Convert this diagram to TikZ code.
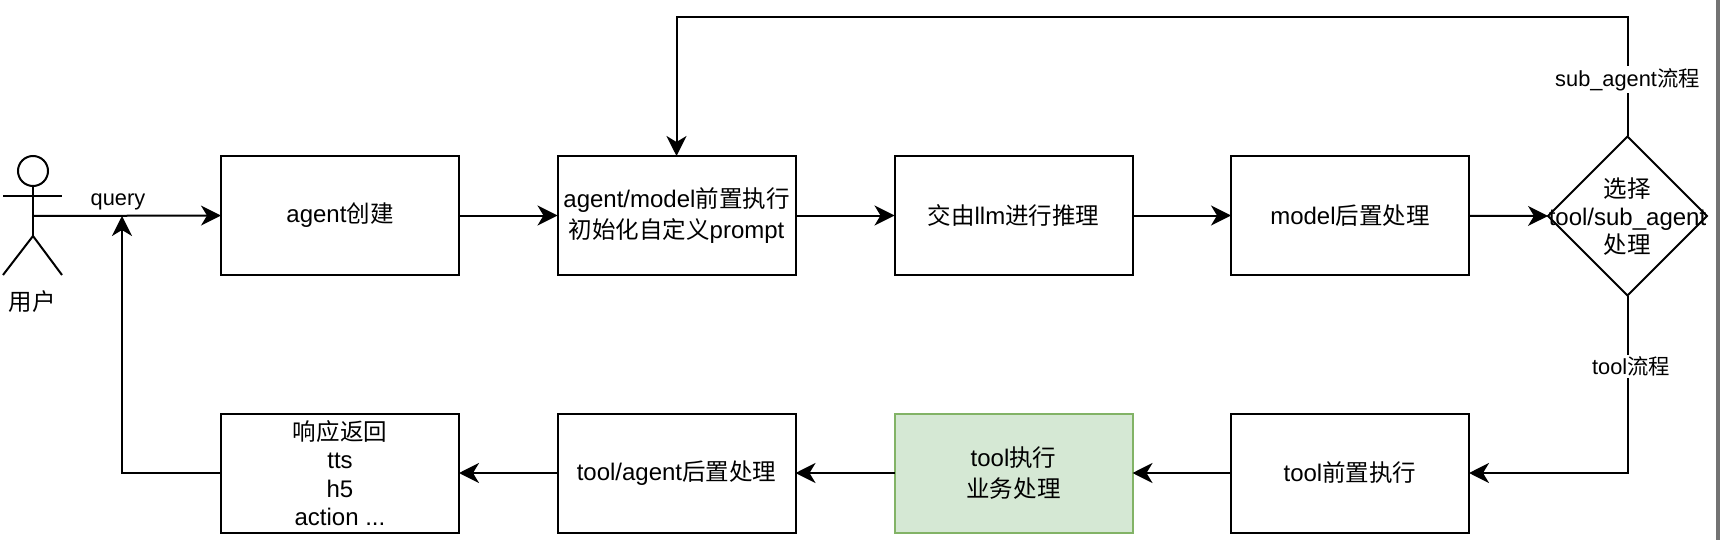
\documentclass[tikz,border=0pt]{standalone}
\usepackage{fontspec}
\setmainfont{Liberation Sans}
\newfontfamily\cjk{Noto Sans CJK SC}[Scale=0.98]
\newcommand{\zh}[1]{{\cjk #1}}
\usetikzlibrary{arrows.meta,shapes.geometric}
\definecolor{greenfill}{HTML}{D5E8D4}
\definecolor{greenline}{HTML}{82B366}
\tikzset{
  every node/.style={font=\fontsize{12}{15.4}\selectfont, align=center, inner sep=0pt, outer sep=0pt},
  flowbox/.style={draw=black, line width=1pt, minimum width=119pt, minimum height=59.5pt, anchor=center},
  greenbox/.style={flowbox, draw=greenline, fill=greenfill},
  choice/.style={draw=black, line width=1pt, diamond, aspect=1, minimum width=79.5pt, minimum height=79.5pt, anchor=center},
  conn/.style={draw=black, line width=1pt, -{Stealth[length=10pt,width=10pt,inset=3pt]}},
  edgelabel/.style={font=\fontsize{10.9}{13}\selectfont, fill=white, inner sep=1pt},
  actorline/.style={draw=black, line width=1pt},
  nudge/.style={execute at begin node={\vspace*{2pt}}}
}
\begin{document}
\begin{tikzpicture}[x=0.5pt,y=-0.5pt]
\useasboundingbox (0,0) rectangle (1720,540);
\fill[white] (0,0) rectangle (1720,540);
\fill[black!55] (1716,0) rectangle (1720,540);

% actor
\draw[actorline] (33,171) circle (7.5pt);
\draw[actorline] (33,186) -- (33,236);
\draw[actorline] (3,196) -- (62,196);
\draw[actorline] (3,275) -- (33,236) -- (62,275);
\coordinate (actorc) at (33,216);
\node (user) at (32.5,302) {\zh{用户}};

% boxes
\node[flowbox,nudge] (a1) at (340,215.5) {agent\zh{创建}};
\node[flowbox,nudge] (a2) at (676.5,215.5) {agent/model\zh{前置执行}\\\zh{初始化自定义}prompt};
\node[flowbox,nudge] (a3) at (1013.5,215.5) {\zh{交由}llm\zh{进行推理}};
\node[flowbox,nudge] (a4) at (1350,215.5) {model\zh{后置处理}};
\node[choice] (d) at (1627.5,216) {};
\node[font=\fontsize{12}{14}\selectfont] (dtext) at (1627.5,217) {\zh{选择}\\tool/sub\_agent\\\zh{处理}};

\node[flowbox,nudge] (b4) at (1350,473) {tool\zh{前置执行}};
\node[greenbox,nudge] (b3) at (1013.5,473) {tool\zh{执行}\\\zh{业务处理}};
\node[flowbox,nudge] (b2) at (676.5,473) {tool/agent\zh{后置处理}};
\node[flowbox, font=\fontsize{12}{14.2}\selectfont] (b1) at (340,473) {\zh{响应返回}\\tts\\h5\\action ...};

% connectors
\coordinate (q) at (122,216);
\draw[conn] (actorc) -- (a1.west);
\draw[conn] (a1) -- (a2);
\draw[conn] (a2) -- (a3);
\draw[conn] (a3) -- (a4);
\draw[conn] (a4) -- (d.west);
\coordinate (tr) at (1627.5,17.5);
\coordinate (tl) at (676.5,17.5);
\draw[conn] (d.north) -- (tr) -- (tl) -- (a2.north);
\node[edgelabel] (lsub) at (1627.5,79.5) {sub\_agent\zh{流程}};
\coordinate (br) at (1627.5,473);
\draw[conn] (d.south) -- (br) -- (b4.east);
\node[edgelabel] (ltool) at (1631,366.5) {tool\zh{流程}};
\draw[conn] (b4) -- (b3);
\draw[conn] (b3) -- (b2);
\draw[conn] (b2) -- (b1);
\coordinate (bl) at (122,473);
\draw[conn] (b1.west) -- (bl) -- (q);
\node[font=\fontsize{10.9}{13}\selectfont] (lq) at (118,202) {query};
\end{tikzpicture}
\end{document}
